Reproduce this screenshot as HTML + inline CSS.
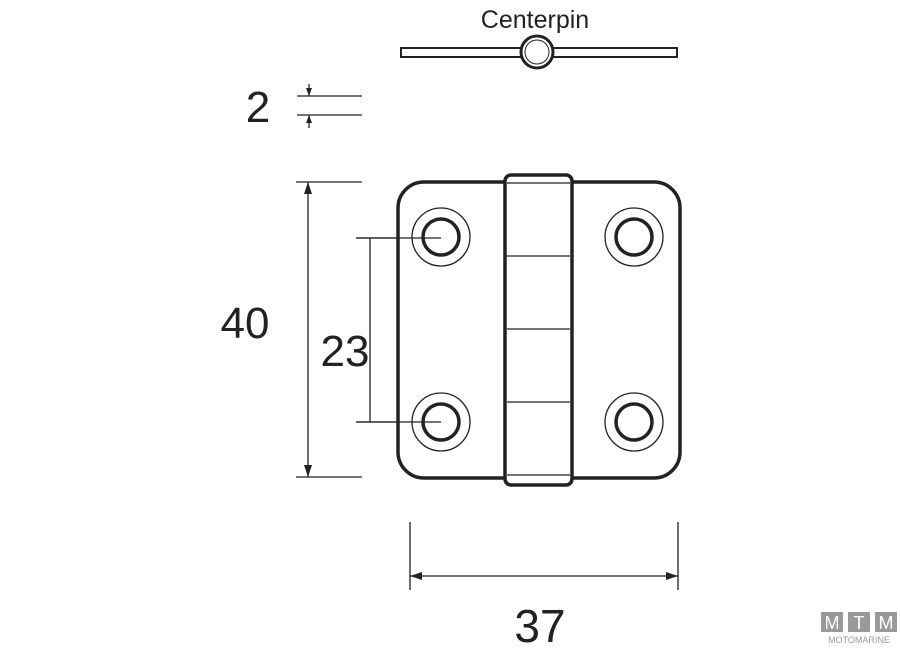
<!DOCTYPE html>
<html><head><style>body{margin:0;background:#fff}svg{display:block}</style></head><body>
<svg width="900" height="648" viewBox="0 0 900 648" xmlns="http://www.w3.org/2000/svg">
<g font-family="Liberation Sans, sans-serif" fill="#222">
<text x="535" y="28" font-size="25" text-anchor="middle">Centerpin</text>
<text x="258" y="122" font-size="44" text-anchor="middle">2</text>
<text x="245" y="338" font-size="44" text-anchor="middle">40</text>
<text x="345" y="366" font-size="44" text-anchor="middle">23</text>
<text x="540" y="642" font-size="46" text-anchor="middle">37</text>
</g>
<rect x="401" y="48" width="276" height="9" fill="#fff" stroke="#222" stroke-width="2"/>
<circle cx="537" cy="52" r="16" fill="#fff" stroke="#222" stroke-width="3"/>
<circle cx="537" cy="52" r="12" fill="#fff" stroke="#222" stroke-width="1"/>
<g stroke="#222" stroke-width="1.3" fill="none">
<line x1="297" y1="96" x2="362" y2="96"/><line x1="297" y1="115" x2="362" y2="115"/>
<line x1="309" y1="84" x2="309" y2="96"/><line x1="309" y1="115" x2="309" y2="128"/>
<line x1="296" y1="182" x2="362" y2="182"/><line x1="296" y1="477" x2="362" y2="477"/>
<line x1="308" y1="182" x2="308" y2="477"/>
<line x1="356" y1="238" x2="441" y2="238"/><line x1="356" y1="422" x2="441" y2="422"/>
<line x1="370" y1="238" x2="370" y2="422"/>
<line x1="410" y1="522" x2="410" y2="590"/><line x1="678" y1="522" x2="678" y2="590"/>
<line x1="410" y1="576" x2="678" y2="576"/>
</g>
<g fill="#222">
<path d="M309 96 l-3 -8 h6z"/><path d="M309 115 l-3 8 h6z"/>
<path d="M308 182 l-4 12 h8z"/><path d="M308 477 l-4 -12 h8z"/>
<path d="M410 576 l12 -4 v8z"/><path d="M678 576 l-12 -4 v8z"/>
</g>
<rect x="398" y="182" width="282" height="296" rx="26" fill="#fff" stroke="#222" stroke-width="3.5"/>
<rect x="505" y="175" width="67" height="310" rx="6" fill="#fff" stroke="#222" stroke-width="3.5"/>
<g stroke="#222" stroke-width="1.3">
<line x1="507" y1="183" x2="570" y2="183"/><line x1="507" y1="256" x2="570" y2="256"/>
<line x1="507" y1="329" x2="570" y2="329"/><line x1="507" y1="402" x2="570" y2="402"/>
<line x1="507" y1="475" x2="570" y2="475"/>
</g>
<g fill="none" stroke="#222">
<circle cx="441" cy="237" r="29" stroke-width="1.3"/><circle cx="441" cy="237" r="18" stroke-width="3.5"/>
<circle cx="634" cy="237" r="29" stroke-width="1.3"/><circle cx="634" cy="237" r="18" stroke-width="3.5"/>
<circle cx="441" cy="422" r="29" stroke-width="1.3"/><circle cx="441" cy="422" r="18" stroke-width="3.5"/>
<circle cx="634" cy="422" r="29" stroke-width="1.3"/><circle cx="634" cy="422" r="18" stroke-width="3.5"/>
</g>
<line x1="356" y1="238" x2="441" y2="238" stroke="#222" stroke-width="1.3"/>
<line x1="356" y1="422" x2="441" y2="422" stroke="#222" stroke-width="1.3"/>
<g fill="#999"><rect x="821" y="612" width="22" height="20"/><rect x="848" y="612" width="22" height="20"/><rect x="875" y="612" width="22" height="20"/></g>
<g font-family="Liberation Sans, sans-serif" fill="#fff" font-size="18" text-anchor="middle"><text x="832" y="629">M</text><text x="859" y="629">T</text><text x="886" y="629">M</text></g>
<text x="859" y="643" font-family="Liberation Sans, sans-serif" font-size="9" fill="#999" text-anchor="middle">MOTOMARINE</text>
</svg>
</body></html>
